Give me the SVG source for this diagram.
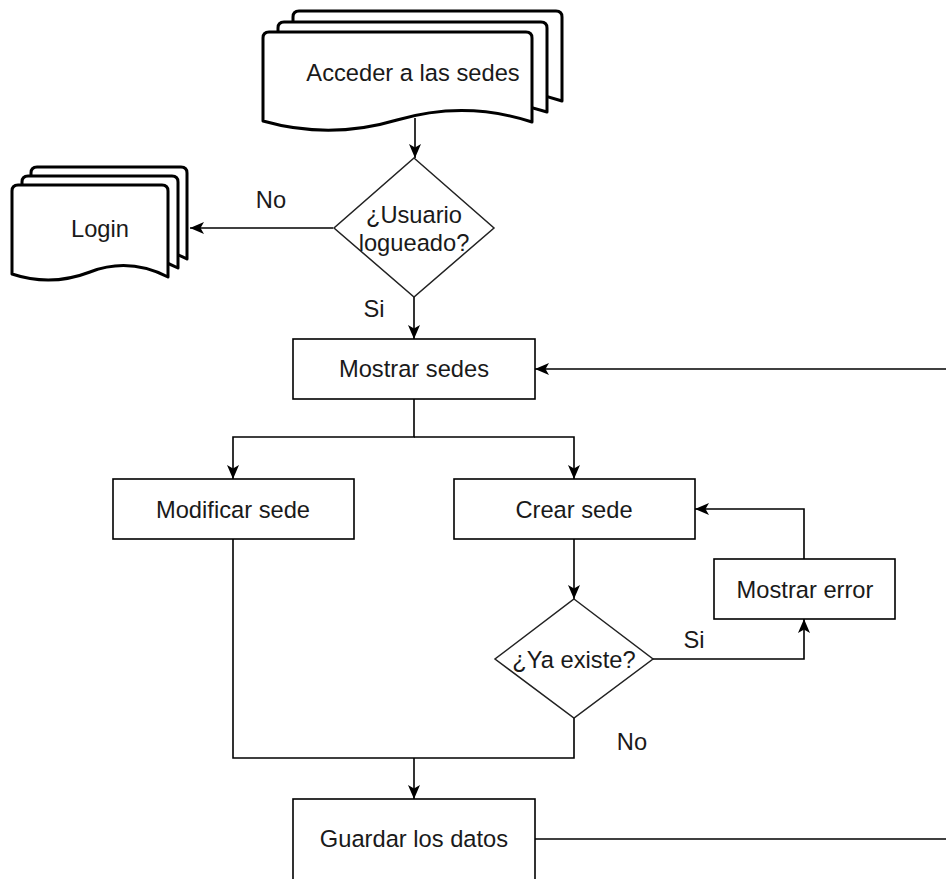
<svg xmlns="http://www.w3.org/2000/svg" width="946" height="879" viewBox="0 0 946 879">
<defs>
<marker id="arr" markerUnits="userSpaceOnUse" markerWidth="16" markerHeight="14" refX="14" refY="7" orient="auto">
<path d="M0,1 L14,7 L0,13 L3.5,7 Z" fill="#000"/>
</marker>
<path id="docA" d="M263,38 Q263,32 269,32 L526,32 Q532,32 532,38 L532,122 Q465,100 397,120 Q330,140 263,121 Z"/>
<path id="docL" d="M12,191 Q12,185 18,185 L162,185 Q168,185 168,191 L168,277 Q129,257 90,272 Q51,287 12,274 Z"/>
</defs>
<style>
.doc{fill:#fff;stroke:#000;stroke-width:3;stroke-linejoin:round}
.box{fill:#fff;stroke:#000;stroke-width:1.6}
.dia{fill:#fff;stroke:#222;stroke-width:1.5}
.edge{fill:none;stroke:#000;stroke-width:1.6}
.arr{marker-end:url(#arr)}
text{font-family:"Liberation Sans",Arial,sans-serif;font-size:23.7px;fill:#1a1a1a;text-anchor:middle}
</style>
<rect width="946" height="879" fill="#fff"/>
<g id="connectors">
<path class="edge arr" d="M415,118 V158"/>
<path class="edge arr" d="M333,228 H190"/>
<path class="edge arr" d="M414,297 V339"/>
<path class="edge arr" d="M950,369 H535"/>
<path class="edge arr" d="M414,399 V437 H233 V479"/>
<path class="edge arr" d="M414,437 H574 V479"/>
<path class="edge arr" d="M574,539 V599"/>
<path class="edge arr" d="M653,659 H804 V619"/>
<path class="edge arr" d="M804,559 V509 H695"/>
<path class="edge" d="M233,539 V758 H574 V718"/>
<path class="edge arr" d="M414,758 V799"/>
<path class="edge" d="M535,839 H950"/>
<text x="271" y="208">No</text>
<text x="374" y="317">Si</text>
<text x="694" y="648">Si</text>
<text x="632" y="750">No</text>
</g>
<g id="acceder">
<use href="#docA" class="doc" transform="translate(30,-21)"/>
<use href="#docA" class="doc" transform="translate(15,-10)"/>
<use href="#docA" class="doc"/>
<text x="413" y="81">Acceder a las sedes</text>
</g>
<g id="login">
<use href="#docL" class="doc" transform="translate(19,-18)"/>
<use href="#docL" class="doc" transform="translate(10,-9)"/>
<use href="#docL" class="doc"/>
<text x="100" y="237">Login</text>
</g>
<g id="usuario-logueado">
<path class="dia" d="M414,158 L494,228 L414,297 L334,228 Z"/>
<text x="414" y="223">¿Usuario</text>
<text x="414" y="251">logueado?</text>
</g>
<g id="mostrar-sedes">
<rect class="box" x="293" y="339" width="242" height="60"/>
<text x="414" y="377">Mostrar sedes</text>
</g>
<g id="modificar-sede">
<rect class="box" x="113" y="479" width="241" height="60"/>
<text x="233" y="518">Modificar sede</text>
</g>
<g id="crear-sede">
<rect class="box" x="454" y="479" width="241" height="60"/>
<text x="574" y="518">Crear sede</text>
</g>
<g id="ya-existe">
<path class="dia" d="M574,599 L653,659 L574,718 L495,659 Z"/>
<text x="574" y="668">¿Ya existe?</text>
</g>
<g id="mostrar-error">
<rect class="box" x="714" y="559" width="181" height="60"/>
<text x="805" y="598">Mostrar error</text>
</g>
<g id="guardar-datos">
<rect class="box" x="293" y="799" width="242" height="95"/>
<text x="414" y="847">Guardar los datos</text>
</g>
</svg>
